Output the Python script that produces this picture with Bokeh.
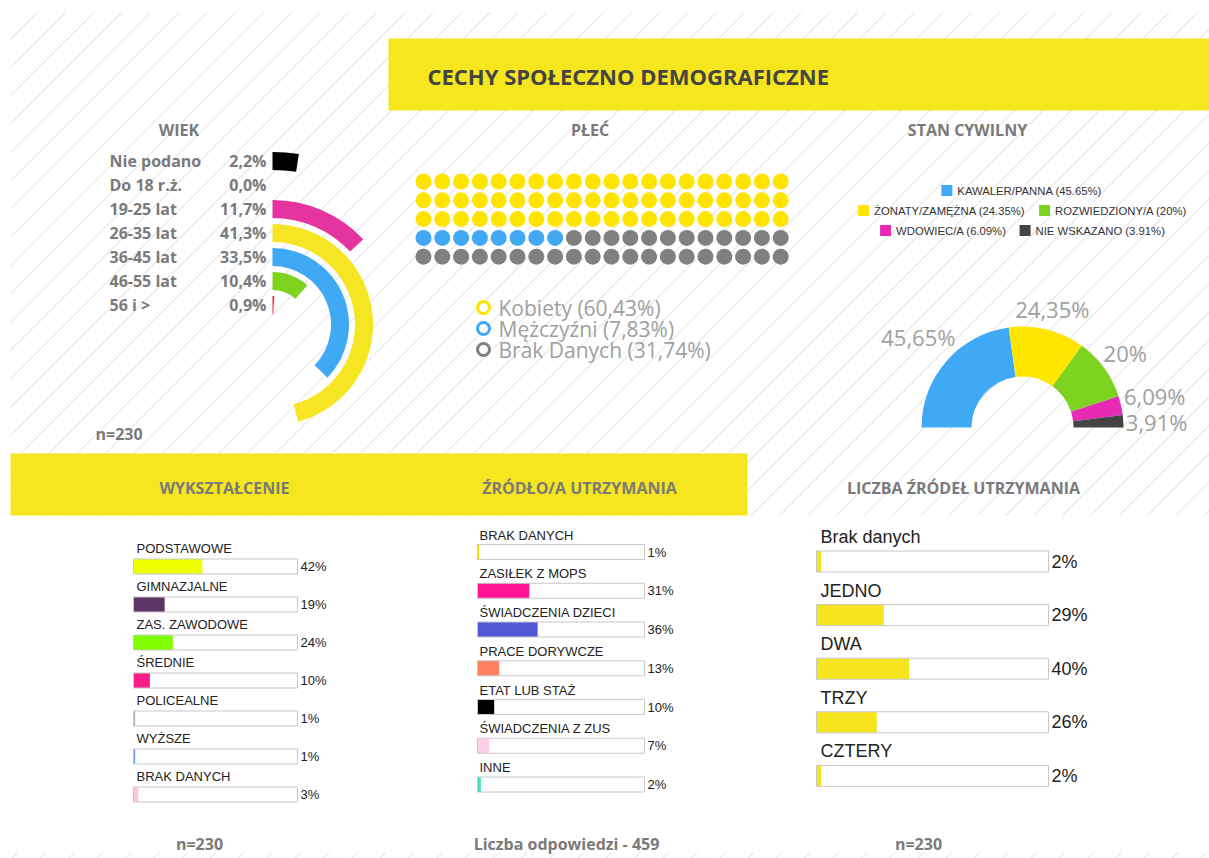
import numpy as np
from bokeh.plotting import figure
from bokeh.models import Range1d, ColumnDataSource
from bokeh.core.properties import value
from bokeh.embed import file_html
from bokeh.resources import INLINE

# ---------------- data ----------------
title_text = "CECHY SPOŁECZNO DEMOGRAFICZNE"

age_title = "WIEK"
age_labels = ["Nie podano", "Do 18 r.ż.", "19-25 lat", "26-35 lat", "36-45 lat", "46-55 lat", "56 i >"]
age_values = [2.2, 0.0, 11.7, 41.3, 33.5, 10.4, 0.9]
age_colors = ["#000000", "#bbbbbb", "#e5349f", "#f6e523", "#3fa9f5", "#7ed321", "#ff1a3c"]
age_note = "n=230"

sex_title = "PŁEĆ"
sex_labels = ["Kobiety", "Mężczyźni", "Brak Danych"]
sex_values = [60.43, 7.83, 31.74]
sex_colors = ["#ffe400", "#42a8f4", "#808080"]

marital_title = "STAN CYWILNY"
marital_labels = ["KAWALER/PANNA", "ŻONATY/ZAMĘŻNA", "ROZWIEDZIONY/A", "WDOWIEC/A", "NIE WSKAZANO"]
marital_values = [45.65, 24.35, 20, 6.09, 3.91]
marital_colors = ["#3fa9f5", "#ffe600", "#7ed321", "#e62ab4", "#444444"]

edu_title = "WYKSZTAŁCENIE"
edu_labels = ["PODSTAWOWE", "GIMNAZJALNE", "ZAS. ZAWODOWE", "ŚREDNIE", "POLICEALNE", "WYŻSZE", "BRAK DANYCH"]
edu_values = [42, 19, 24, 10, 1, 1, 3]
edu_colors = ["#eeff00", "#5c3566", "#80ff00", "#ff1a8c", "#b0b0b0", "#6b9be0", "#ffc8e0"]
edu_note = "n=230"

src_title = "ŹRÓDŁO/A UTRZYMANIA"
src_labels = ["BRAK DANYCH", "ZASIŁEK Z MOPS", "ŚWIADCZENIA DZIECI", "PRACE DORYWCZE",
              "ETAT LUB STAŻ", "ŚWIADCZENIA Z ZUS", "INNE"]
src_values = [1, 31, 36, 13, 10, 7, 2]
src_colors = ["#f0f000", "#ff1493", "#5058d6", "#ff8060", "#000000", "#ffcce8", "#40e0c0"]
src_note = "Liczba odpowiedzi - 459"

cnt_title = "LICZBA ŹRÓDEŁ UTRZYMANIA"
cnt_labels = ["Brak danych", "JEDNO", "DWA", "TRZY", "CZTERY"]
cnt_values = [2, 29, 40, 26, 2]
cnt_color = "#f5e41e"
cnt_note = "n=230"

# ---------------- style ----------------
YELLOW = "#f6e61d"
HEAD = "Open Sans"
BODY = "Liberation Sans"
GREY_TXT = "#7a7a7a"
SEC_FS = 16

W, H = 1209, 858
p = figure(width=W, height=H, x_range=Range1d(0, W), y_range=Range1d(H, 0),
           output_backend="svg", toolbar_location=None, min_border=0,
           x_axis_type=None, y_axis_type=None)
p.outline_line_color = None
p.background_fill_color = "white"
p.border_fill_color = "white"


def txt(x, y, s, size, color, font=HEAD, style="normal", align="left", baseline="middle"):
    p.text(x=[x], y=[y], text=[s], text_font=value(font), text_font_size=value(f"{size}px"),
           text_font_style=style, text_color=color, text_align=align, text_baseline=baseline)


# ---------------- background hatch ----------------
step = 28.3
c = 20.4 + np.arange(-2, (W + H) / step + 3) * step
p.segment(x0=c - H, y0=H, x1=c, y1=0, line_color="#ebebeb", line_width=1.4)
# white areas
p.quad(left=[0, 0, 10], right=[10, W, W], top=[0, 0, 515], bottom=[H, 12, 852],
       fill_color="white", line_color=None)
# yellow bands
p.quad(left=[388, 10], right=[W, 747], top=[38, 453], bottom=[110, 515],
       fill_color=YELLOW, line_color=None)

txt(427, 75, title_text, 22, "#444444", style="bold")

# ---------------- WIEK ----------------
txt(178.5, 129, age_title, SEC_FS, GREY_TXT, style="bold", align="center")
AGE_CX, AGE_CY = 272, 324
AGE_ROW0, AGE_STEP, AGE_BAND = 160.5, 24, 18
AGE_FULL = 90.0  # percent that would fill a full circle
a_vals = np.array(age_values, float)
rows = AGE_ROW0 + AGE_STEP * np.arange(len(a_vals))
radii = AGE_CY - rows
sweep = a_vals / AGE_FULL * 360.0
m = a_vals > 0
p.annular_wedge(x=AGE_CX, y=AGE_CY, inner_radius=radii[m] - AGE_BAND / 2, outer_radius=radii[m] + AGE_BAND / 2,
                start_angle=90 - sweep[m], end_angle=90, start_angle_units="deg", end_angle_units="deg",
                fill_color=list(np.array(age_colors)[m]), line_color=None)
p.text(x=109, y=rows, text=age_labels, text_font=value(HEAD), text_font_size=value(f"{SEC_FS}px"),
       text_font_style="bold", text_color=GREY_TXT, text_baseline="middle")
p.text(x=266, y=rows, text=[f"{v:.1f}".replace(".", ",") + "%" for v in a_vals], text_font=value(HEAD),
       text_font_size=value(f"{SEC_FS}px"), text_font_style="bold", text_color=GREY_TXT,
       text_baseline="middle", text_align="right")
txt(95, 433, age_note, SEC_FS, GREY_TXT, style="bold")

# ---------------- PŁEĆ ----------------
txt(589.5, 129, sex_title, SEC_FS, GREY_TXT, style="bold", align="center")
DOT_X0, DOT_Y0, DOT_STEP, DOT_COLS = 423, 181, 18.8, 20
counts = np.round(np.array(sex_values)).astype(int)
dot_colors = list(np.repeat(sex_colors, counts))
k = np.arange(counts.sum())
p.scatter(x=DOT_X0 + (k % DOT_COLS) * DOT_STEP, y=DOT_Y0 + (k // DOT_COLS) * DOT_STEP, size=16,
          fill_color=dot_colors, line_color=None)
leg_y = 307 + 21 * np.arange(len(sex_labels))
p.scatter(x=483, y=leg_y, size=12, fill_color=None, line_color=sex_colors, line_width=3)
p.text(x=498, y=leg_y, text=[f"{l} ({v:.2f}%)".replace(".", ",") for l, v in zip(sex_labels, sex_values)],
       text_font=value(HEAD), text_font_size=value("21px"), text_color="#a0a0a0", text_baseline="middle")

# ---------------- STAN CYWILNY ----------------
txt(967, 129, marital_title, SEC_FS, GREY_TXT, style="bold", align="center")
MC_X, MC_Y, MC_RIN, MC_ROUT = 1022, 427, 51, 101
mv = np.array(marital_values, float)
frac = mv / mv.sum()
cum = np.concatenate([[0], np.cumsum(frac)])
st = 180 - cum[1:] * 180
en = 180 - cum[:-1] * 180
p.annular_wedge(x=MC_X, y=MC_Y, inner_radius=MC_RIN, outer_radius=MC_ROUT, start_angle=st, end_angle=en,
                start_angle_units="deg", end_angle_units="deg", fill_color=marital_colors, line_color=None)

# outside labels: box pushed out along the mid-angle, then de-overlapped
LAB_FS = 22
OS_W = {",": .258, "%": .823}
lab_txt = [f"{v:g}".replace(".", ",") + "%" for v in mv]
lab_w = np.array([sum(OS_W.get(ch, .572) for ch in s) * LAB_FS for s in lab_txt])
lab_h = LAB_FS
mid = np.radians((st + en) / 2)
ca, sa = np.cos(mid), np.sin(mid)
dist = MC_ROUT + 2 + lab_w / 2 * np.abs(ca) + lab_h / 2 * np.abs(sa)
lx = MC_X + dist * ca
ly = MC_Y - dist * sa
MIN_GAP = 26
for _ in range(30):
    order = np.argsort(ly)
    for a, b in zip(order[:-1], order[1:]):
        if abs(lx[a] - lx[b]) < (lab_w[a] + lab_w[b]) / 2 and ly[b] - ly[a] < MIN_GAP:
            d = (MIN_GAP - (ly[b] - ly[a])) / 2
            ly[a] -= d
            ly[b] += d
p.text(x=lx, y=ly, text=lab_txt, text_font=value(HEAD), text_font_size=value(f"{LAB_FS}px"),
       text_color="#a0a0a0", text_align="center", text_baseline="middle")

# legend (centered rows)
AW = {}
for ch in "ABEKPSVXY": AW[ch] = .667
for ch in "CDHNRU": AW[ch] = .722
for ch in "GOQ": AW[ch] = .778
AW.update({"F": .611, "T": .611, "Z": .611, "L": .556, "I": .278, "J": .5, "M": .833, "W": .944,
           " ": .278, "(": .333, ")": .333, ".": .278, "/": .278, "%": .889, "Ż": .611, "Ę": .667})
for ch in "0123456789": AW[ch] = .556
LEG_FS = 11.3


def aw(s):
    return sum(AW.get(ch, .62) for ch in s) * LEG_FS


leg_texts = [f"{l} ({v:g}%)" for l, v in zip(marital_labels, marital_values)]
leg_rows = [[0], [1, 2], [3, 4]]
BOX, GAP_T, GAP_I = 11, 5, 13
for r, items in enumerate(leg_rows):
    yy = 190 + 20 * r
    total = sum(BOX + GAP_T + aw(leg_texts[i]) for i in items) + GAP_I * (len(items) - 1)
    xx = MC_X - total / 2
    for i in items:
        p.quad(left=xx, right=xx + BOX, top=yy - BOX / 2, bottom=yy + BOX / 2,
               fill_color=marital_colors[i], line_color=None)
        txt(xx + BOX + GAP_T, yy + 0.5, leg_texts[i], LEG_FS, "#333333", font=BODY)
        xx += BOX + GAP_T + aw(leg_texts[i]) + GAP_I


# ---------------- bar panels ----------------
def bar_panel(labels, vals, colors, x0, width, yc0, stp, h, label_dy, fs, label_dx, value_dx):
    vals = np.array(vals, float)
    yc = yc0 + stp * np.arange(len(vals))
    src = ColumnDataSource(dict(y0=yc - h / 2, y1=yc + h / 2, r=x0 + vals / 100.0 * width,
                                c=colors, yc=yc, lab=labels, yl=yc + label_dy,
                                val=[f"{v:g}%" for v in vals]))
    p.quad(left=x0, right=x0 + width, top="y0", bottom="y1", source=src, fill_color="white", line_color=None)
    p.quad(left=x0, right="r", top="y0", bottom="y1", source=src, fill_color="c", line_color=None)
    p.quad(left=x0, right=x0 + width, top="y0", bottom="y1", source=src, fill_color=None,
           line_color="#c8c8c8", line_width=1)
    p.text(x=x0 + label_dx, y="yl", text="lab", source=src, text_font=value(BODY),
           text_font_size=value(f"{fs}px"), text_color="#222222", text_baseline="middle")
    p.text(x=x0 + width + value_dx, y="yc", text="val", source=src, text_font=value(BODY),
           text_font_size=value(f"{fs}px"), text_color="#222222", text_baseline="middle")


txt(224, 487, edu_title, SEC_FS, GREY_TXT, style="bold", align="center")
bar_panel(edu_labels, edu_values, edu_colors, 133, 164, 566, 38, 15, -18, 13, 3, 3)
txt(199, 843, edu_note, SEC_FS, GREY_TXT, style="bold", align="center")

txt(579, 487, src_title, SEC_FS, GREY_TXT, style="bold", align="center")
bar_panel(src_labels, src_values, src_colors, 477, 167, 551.5, 38.75, 15, -17, 13, 2, 3)
txt(566, 843, src_note, SEC_FS, GREY_TXT, style="bold", align="center")

txt(963, 487, cnt_title, SEC_FS, GREY_TXT, style="bold", align="center")
bar_panel(cnt_labels, cnt_values, [cnt_color] * len(cnt_values), 816, 232, 561, 53.6, 21, -24.5, 18, 4, 3)
txt(918, 843, cnt_note, SEC_FS, GREY_TXT, style="bold", align="center")

open("out.html", "w").write(file_html(p, INLINE))
